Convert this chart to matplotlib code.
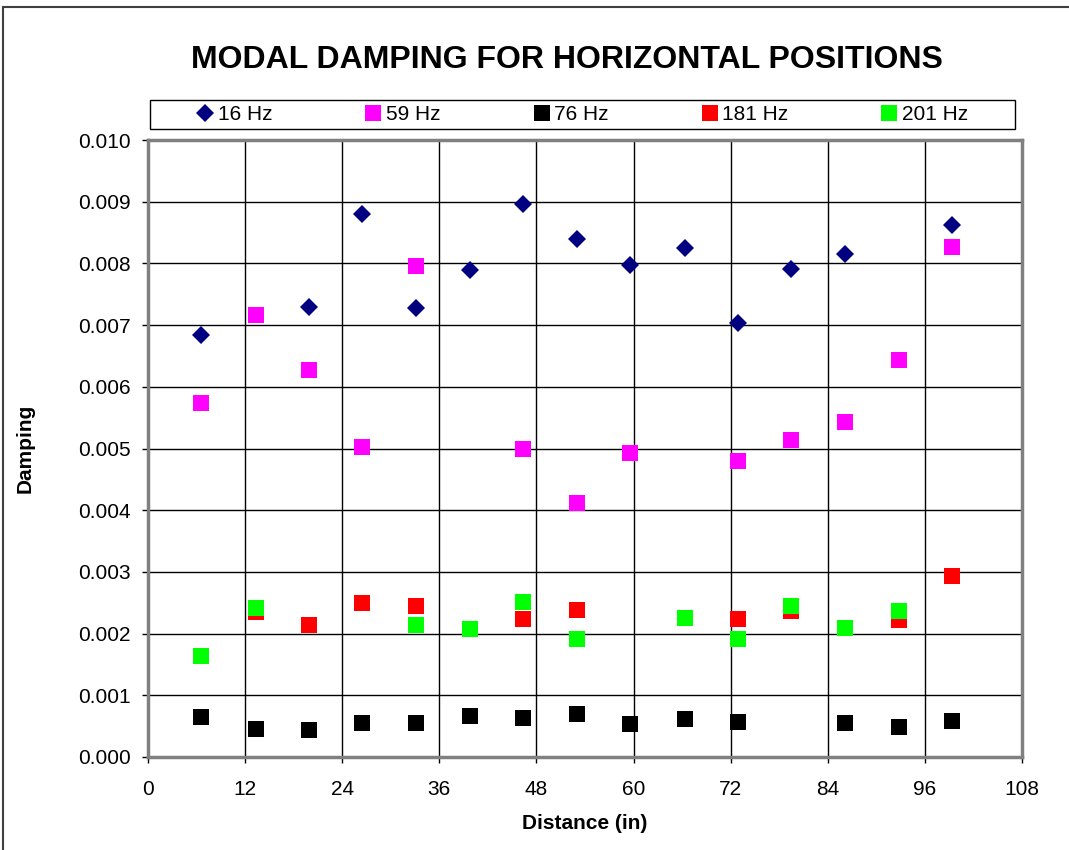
import numpy as np
import matplotlib
matplotlib.use("Agg")
import matplotlib.pyplot as plt
from matplotlib.patches import Rectangle

plt.rcParams["font.family"] = ["Liberation Sans", "DejaVu Sans"]

# measurement positions along the beam (in)
distance = [6.6, 13.3, 19.9, 26.5, 33.1, 39.8, 46.4, 53.0,
            59.6, 66.3, 72.9, 79.5, 86.1, 92.8, 99.4]

nan = np.nan
damp_16  = [0.00684, nan, 0.00729, 0.00880, 0.00728, 0.00790, 0.00896, 0.00840,
            0.00798, 0.00825, 0.00703, 0.00791, 0.00816, nan, 0.00863]
damp_59  = [0.00573, 0.00716, 0.00627, 0.00502, 0.00796, nan, 0.00500, 0.00412,
            0.00493, nan, 0.00480, 0.00513, 0.00543, 0.00643, 0.00827]
damp_76  = [0.00065, 0.00046, 0.00044, 0.00055, 0.00055, 0.00066, 0.00064, 0.00069,
            0.00053, 0.00062, 0.00057, nan, 0.00055, 0.00048, 0.00059]
damp_181 = [nan, 0.00235, 0.00214, 0.00250, 0.00245, nan, 0.00224, 0.00239,
            nan, nan, 0.00223, 0.00236, nan, 0.00222, 0.00294]
damp_201 = [0.00164, 0.00242, nan, nan, 0.00214, 0.00207, 0.00251, 0.00191,
            nan, 0.00225, 0.00191, 0.00244, 0.00209, 0.00236, nan]

series = [
    ("16 Hz",  damp_16,  "D", "#000080", 9.5),
    ("59 Hz",  damp_59,  "s", "#FF00FF", 11),
    ("76 Hz",  damp_76,  "s", "#000000", 11),
    ("181 Hz", damp_181, "s", "#FF0000", 11),
    ("201 Hz", damp_201, "s", "#00FF00", 11),
]

W, H = 1069, 850
fig = plt.figure(figsize=(W / 100, H / 100), dpi=100)
ax = fig.add_axes([148 / W, 1 - 757 / H, 874 / W, 617 / H])

handles = []
for label, vals, mk, col, ms in series:
    h, = ax.plot(distance, vals, linestyle="none", marker=mk, color=col,
                 markersize=ms, markeredgewidth=0, label=label, clip_on=False)
    handles.append(h)

ax.set_xlim(0, 108)
ax.set_ylim(0, 0.010)
ax.set_xticks(np.arange(0, 109, 12))
ax.set_yticks(np.arange(0, 0.0101, 0.001))
ax.yaxis.set_major_formatter(matplotlib.ticker.FormatStrFormatter("%.3f"))
ax.grid(True, color="black", linewidth=1)
ax.set_axisbelow(True)
for sp in ax.spines.values():
    sp.set_color("#808080")
    sp.set_linewidth(2.5)
ax.tick_params(axis="both", direction="out", length=4.5, width=1, color="black",
               labelsize=15)
ax.tick_params(axis="y", pad=8)
ax.tick_params(axis="x", pad=12)

ax.set_xlabel("Distance (in)", fontsize=15, fontweight="bold")
ax.xaxis.set_label_coords(0.5, -0.092)
ax.set_ylabel("Damping", fontsize=15, fontweight="bold")
ax.yaxis.set_label_coords(-0.13, 0.5)

fig.text(567 / W, 1 - 60 / H, "MODAL DAMPING FOR HORIZONTAL POSITIONS",
         ha="center", va="center", fontsize=23, fontweight="bold")

# legend box drawn separately, entries placed inside it
fig.patches.append(Rectangle((150 / W, 1 - 129 / H), 865 / W, 29 / H,
                             transform=fig.transFigure, fill=False,
                             edgecolor="black", linewidth=1))
leg = fig.legend(handles=handles, loc="center left", ncol=5,
                 bbox_to_anchor=(195 / W, 1 - 114.5 / H),
                 fontsize=15, frameon=False, borderpad=0, borderaxespad=0,
                 handlelength=1.0, handletextpad=0.1, columnspacing=4.35)

# outer chart border
fig.patches.append(Rectangle((3 / W, -0.01), 1.1, 1 - 7 / H + 0.01,
                             transform=fig.transFigure, fill=False,
                             edgecolor="#404040", linewidth=1.5))

plt.savefig("out.png", dpi=100)
plt.close()
